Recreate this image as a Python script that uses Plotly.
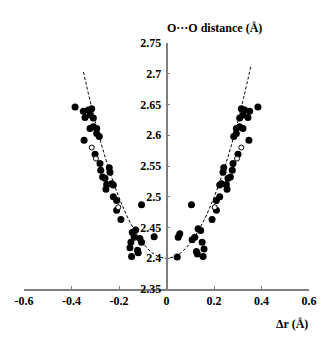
import plotly.graph_objects as go

# Filled points, left branch
left_x = [-0.385, -0.350, -0.329, -0.315, -0.343, -0.322, -0.308, -0.308, -0.322, -0.294,
          -0.294, -0.283, -0.347, -0.301, -0.280, -0.241, -0.238, -0.277, -0.259, -0.269,
          -0.231, -0.224, -0.252, -0.255, -0.224, -0.210, -0.210, -0.192, -0.105, -0.052,
          -0.144, -0.130, -0.136, -0.112, -0.150, -0.105, -0.154, -0.122, -0.119, -0.147]
left_y = [2.646, 2.639, 2.641, 2.643, 2.629, 2.633, 2.628, 2.614, 2.611, 2.611,
          2.603, 2.598, 2.592, 2.569, 2.554, 2.547, 2.540, 2.543, 2.530, 2.532,
          2.521, 2.519, 2.520, 2.512, 2.500, 2.494, 2.478, 2.463, 2.487, 2.435,
          2.442, 2.446, 2.434, 2.432, 2.426, 2.426, 2.417, 2.413, 2.409, 2.403]

# Filled points, right branch
right_x = [0.385, 0.350, 0.329, 0.315, 0.343, 0.322, 0.308, 0.308, 0.322, 0.294,
           0.294, 0.283, 0.347, 0.301, 0.280, 0.241, 0.238, 0.277, 0.259, 0.269,
           0.231, 0.224, 0.252, 0.255, 0.224, 0.210, 0.210, 0.192, 0.105, 0.056,
           0.049, 0.045, 0.133, 0.144, 0.119, 0.108, 0.150, 0.158, 0.126, 0.130, 0.154]
right_y = [2.646, 2.639, 2.641, 2.643, 2.629, 2.633, 2.628, 2.614, 2.611, 2.611,
           2.603, 2.598, 2.592, 2.569, 2.554, 2.547, 2.540, 2.543, 2.530, 2.532,
           2.521, 2.519, 2.520, 2.512, 2.500, 2.494, 2.478, 2.463, 2.487, 2.440,
           2.434, 2.402, 2.448, 2.445, 2.434, 2.430, 2.426, 2.415, 2.411, 2.407, 2.403]

# Open points
open_x = [-0.315, -0.297, -0.203, 0.315, 0.297, 0.203]
open_y = [2.580, 2.562, 2.483, 2.580, 2.562, 2.483]

# Dashed fit curve
curve_x = [-0.350, -0.300, -0.250, -0.200, -0.150, -0.100, -0.050, 0.000,
           0.050, 0.100, 0.150, 0.200, 0.250, 0.300, 0.357]
curve_y = [2.703, 2.622, 2.554, 2.499, 2.456, 2.425, 2.406, 2.400,
           2.406, 2.425, 2.456, 2.499, 2.554, 2.622, 2.715]

x_ticks = [-0.6, -0.4, -0.2, 0.0, 0.2, 0.4, 0.6]
x_ticktext = ["-0.6", "-0.4", "-0.2", "0", "0.2", "0.4", "0.6"]
y_ticks = [2.35, 2.40, 2.45, 2.50, 2.55, 2.60, 2.65, 2.70, 2.75]
y_ticktext = ["2.35", "2.4", "2.45", "2.5", "2.55", "2.6", "2.65", "2.7", "2.75"]

FONT = "Liberation Serif"
AXC = "#7f7f7f"

def b(s):
    return "<b>" + s + "</b>"

fig = go.Figure()
fig.add_trace(go.Scatter(x=curve_x, y=curve_y, mode="lines",
                         line=dict(color="black", width=1, dash="3px,2px", shape="spline"),
                         hoverinfo="skip"))
fig.add_trace(go.Scatter(x=left_x + right_x, y=left_y + right_y, mode="markers",
                         marker=dict(color="black", size=7, line=dict(width=0))))
fig.add_trace(go.Scatter(x=open_x, y=open_y, mode="markers",
                         marker=dict(color="white", size=5, line=dict(color="black", width=1))))

fig.update_layout(
    width=333, height=339,
    margin=dict(l=24, r=24, t=43, b=50),
    paper_bgcolor="white", plot_bgcolor="white",
    showlegend=False,
    font=dict(family=FONT, size=12, color="black"),
    xaxis=dict(range=[-0.6, 0.6], tickvals=x_ticks, ticktext=[b(t) for t in x_ticktext],
               ticks="inside", ticklen=3, tickcolor=AXC, tickwidth=1,
               showline=True, linecolor=AXC, linewidth=1.5,
               showgrid=False, zeroline=False,
               tickfont=dict(family=FONT, size=12, color="black")),
    yaxis=dict(range=[2.35, 2.75], tickvals=y_ticks, ticktext=[b(t) for t in y_ticktext],
               anchor="free", position=0.5, side="left",
               ticks="inside", ticklen=3, tickcolor=AXC, tickwidth=1,
               showline=True, linecolor=AXC, linewidth=1.5,
               showgrid=False, zeroline=False, ticklabelstandoff=2,
               tickfont=dict(family=FONT, size=12, color="black")),
    annotations=[
        dict(text=b("O···O distance (Å)"), xref="paper", yref="paper",
             x=0.669, y=1.062, xanchor="center", yanchor="middle", showarrow=False,
             font=dict(family=FONT, size=12, color="black")),
        dict(text=b("Δr (Å)"), xref="paper", yref="paper",
             x=0.94, y=-0.142, xanchor="center", yanchor="middle", showarrow=False,
             font=dict(family=FONT, size=12, color="black")),
    ],
)

fig.write_html("out.html")
